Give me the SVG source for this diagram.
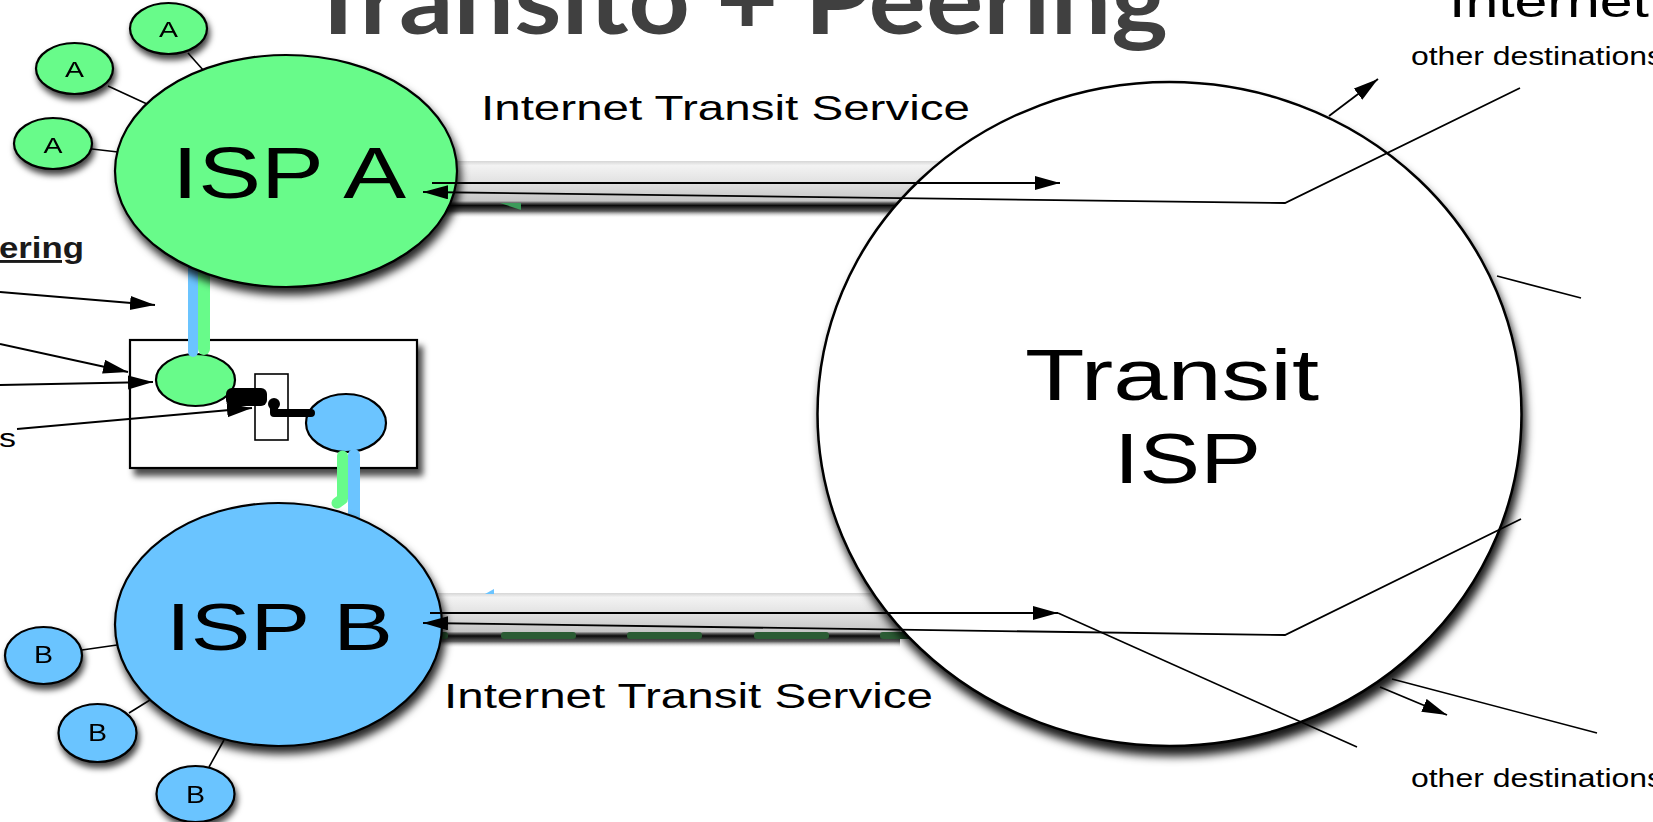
<svg xmlns="http://www.w3.org/2000/svg" width="1653" height="822" viewBox="0 0 1653 822">
<defs>
<style>
.t{font-family:"Liberation Sans",Arial,Helvetica,sans-serif;fill:#000}
.ln{stroke:#000;stroke-width:1.6;fill:none}
.ar{stroke:#000;stroke-width:1.8;fill:none;marker-end:url(#ah)}
.nd{stroke:#000;stroke-width:2.2}
.g{fill:#68fb8a}
.b{fill:#6bc4ff}
.bump{fill:#2b5c34}
</style>
<marker id="ah" markerUnits="userSpaceOnUse" markerWidth="28" markerHeight="16" refX="25" refY="7" orient="auto"><path d="M0,0 L25,7 L0,14 z" fill="#000"/></marker>
<linearGradient id="bar" x1="0" y1="0" x2="0" y2="1">
<stop offset="0" stop-color="#d6d6d6"/>
<stop offset="0.08" stop-color="#f3f3f3"/>
<stop offset="0.35" stop-color="#e3e3e3"/>
<stop offset="0.7" stop-color="#c6c6c6"/>
<stop offset="0.74" stop-color="#555"/>
<stop offset="0.78" stop-color="#0a0a0a"/>
<stop offset="0.88" stop-color="#333" stop-opacity="0.8"/>
<stop offset="1" stop-color="#fff" stop-opacity="0"/>
</linearGradient>
<filter id="shBig" x="-10%" y="-10%" width="125%" height="125%"><feDropShadow dx="3" dy="9" stdDeviation="5" flood-color="#000" flood-opacity="0.9"/></filter>
<filter id="shMed" x="-15%" y="-15%" width="135%" height="140%"><feDropShadow dx="3" dy="7" stdDeviation="4" flood-color="#000" flood-opacity="0.85"/></filter>
<filter id="shSm" x="-30%" y="-30%" width="170%" height="180%"><feDropShadow dx="2" dy="5" stdDeviation="3" flood-color="#000" flood-opacity="0.75"/></filter>
<filter id="shBox" x="-10%" y="-10%" width="125%" height="130%"><feDropShadow dx="5" dy="7" stdDeviation="3" flood-color="#000" flood-opacity="0.7"/></filter>
</defs>
<rect width="1653" height="822" fill="#fff"/>

<g id="labels">
<text x="306" y="34" font-family="Lato,'Open Sans',sans-serif" font-weight="700" font-size="96" fill="#404040" textLength="862" lengthAdjust="spacingAndGlyphs">Transito + Peering</text>
<text class="t" x="1449" y="17" font-size="45" textLength="200" lengthAdjust="spacingAndGlyphs">Internet</text>
<text class="t" x="1411" y="65" font-size="25" textLength="252" lengthAdjust="spacingAndGlyphs">other destinations</text>
<text class="t" x="1411" y="787" font-size="25" textLength="252" lengthAdjust="spacingAndGlyphs">other destinations</text>
<text class="t" x="481" y="120" font-size="35" textLength="489" lengthAdjust="spacingAndGlyphs">Internet Transit Service</text>
<text class="t" x="444" y="708" font-size="35" textLength="489" lengthAdjust="spacingAndGlyphs">Internet Transit Service</text>
<text x="-1" y="258" font-family="'Liberation Sans',Arial,sans-serif" font-weight="700" font-size="29" fill="#1a1a1a" text-decoration="underline" textLength="85" lengthAdjust="spacingAndGlyphs">ering</text>
<text class="t" x="-1" y="447" font-size="25" textLength="17" lengthAdjust="spacingAndGlyphs">s</text>
</g>

<g id="peering">
<rect x="130" y="340" width="287" height="128" fill="#fff" stroke="#000" stroke-width="2.2" filter="url(#shBox)"/>
<rect x="255" y="374" width="33" height="66" fill="#fff" stroke="#000" stroke-width="1.6"/>
<ellipse class="g nd" cx="195.5" cy="380" rx="39.5" ry="26"/>
<ellipse class="b nd" cx="346" cy="423" rx="40" ry="29"/>
<rect x="226" y="388" width="41" height="18" rx="6" fill="#000"/>
<circle cx="274" cy="404" r="6" fill="#000"/>
<path d="M274,404 L274,413 L311,413" stroke="#000" stroke-width="8" fill="none" stroke-linecap="round" stroke-linejoin="round"/>
</g>

<g id="connectors-under">
<line x1="193" y1="250" x2="193" y2="352" stroke="#6bc4ff" stroke-width="10" stroke-linecap="round"/>
<line x1="204" y1="250" x2="204" y2="349" stroke="#68fb8a" stroke-width="12" stroke-linecap="round"/>
<line x1="354" y1="455" x2="354" y2="525" stroke="#6bc4ff" stroke-width="12" stroke-linecap="round"/>
<path d="M342.5,456 L342.5,499 L337,503" stroke="#68fb8a" stroke-width="11" fill="none" stroke-linecap="round" stroke-linejoin="round"/>
<rect x="420" y="161" width="540" height="57" fill="url(#bar)"/>
<polygon points="500,203 521,203 521,210" fill="#3c9a5a"/>
<rect x="410" y="593" width="490" height="55" fill="url(#bar)"/>
<rect class="bump" x="425" y="632" width="23" height="7" rx="3"/>
<rect class="bump" x="501" y="632" width="75" height="7" rx="3"/>
<rect class="bump" x="627" y="632" width="75" height="7" rx="3"/>
<rect class="bump" x="754" y="632" width="75" height="7" rx="3"/>
<rect class="bump" x="880" y="632" width="75" height="7" rx="3"/>
<polygon points="485,594 494,589 494,594" fill="#6bc4ff"/>
<line class="ln" x1="188" y1="53" x2="204" y2="71"/>
<line class="ln" x1="108" y1="86" x2="147" y2="104"/>
<line class="ln" x1="92" y1="149" x2="118" y2="152"/>
<line class="ln" x1="82" y1="650" x2="117" y2="645"/>
<line class="ln" x1="129" y1="713" x2="150" y2="700"/>
<line class="ln" x1="209" y1="767" x2="224" y2="740"/>
</g>

<g id="a1" filter="url(#shSm)"><ellipse class="g nd" cx="168.5" cy="28.5" rx="38.5" ry="25.5"/><text class="t" x="159" y="37" font-size="22" textLength="19" lengthAdjust="spacingAndGlyphs">A</text></g>
<g id="a2" filter="url(#shSm)"><ellipse class="g nd" cx="74.5" cy="68.5" rx="38.5" ry="25.5"/><text class="t" x="65" y="77" font-size="22" textLength="19" lengthAdjust="spacingAndGlyphs">A</text></g>
<g id="a3" filter="url(#shSm)"><ellipse class="g nd" cx="53" cy="143.5" rx="39" ry="25.5"/><text class="t" x="43.5" y="153" font-size="22" textLength="19" lengthAdjust="spacingAndGlyphs">A</text></g>
<g id="b1" filter="url(#shSm)"><ellipse class="b nd" cx="43.5" cy="655.5" rx="38.5" ry="28.5"/><text class="t" x="34" y="663" font-size="23" textLength="19" lengthAdjust="spacingAndGlyphs">B</text></g>
<g id="b2" filter="url(#shSm)"><ellipse class="b nd" cx="97.5" cy="733" rx="39" ry="29"/><text class="t" x="88" y="741" font-size="23" textLength="19" lengthAdjust="spacingAndGlyphs">B</text></g>
<g id="b3" filter="url(#shSm)"><ellipse class="b nd" cx="195.5" cy="794" rx="39" ry="28"/><text class="t" x="186" y="803" font-size="23" textLength="19" lengthAdjust="spacingAndGlyphs">B</text></g>

<g id="isp-a"><ellipse class="g nd" cx="286" cy="171" rx="171" ry="116" filter="url(#shMed)"/><text class="t" x="172" y="198" font-size="72" textLength="234" lengthAdjust="spacingAndGlyphs">ISP A</text></g>
<g id="isp-b"><ellipse class="b nd" cx="278.5" cy="624.5" rx="163.5" ry="121.5" filter="url(#shMed)"/><text class="t" x="166" y="650" font-size="67" textLength="227" lengthAdjust="spacingAndGlyphs">ISP B</text></g>
<g id="transit-isp"><ellipse cx="1169.5" cy="414" rx="352" ry="332" fill="#fff" stroke="#000" stroke-width="2.5" filter="url(#shBig)"/>
<text class="t" x="1025" y="400" font-size="72" textLength="294" lengthAdjust="spacingAndGlyphs">Transit</text>
<text class="t" x="1114" y="483" font-size="70" textLength="147" lengthAdjust="spacingAndGlyphs">ISP</text></g>

<g id="connectors">
<line class="ar" x1="432" y1="183" x2="1060" y2="183"/>
<polyline class="ar" points="1520,88 1285,203 423,192"/>
<line class="ar" x1="1329" y1="116" x2="1378" y2="79"/>
<line class="ln" x1="1497" y1="276" x2="1581" y2="298"/>
<line class="ar" x1="430" y1="613" x2="1058" y2="613"/>
<line class="ln" x1="1058" y1="613" x2="1357" y2="747"/>
<polyline class="ar" points="1521,519 1285,635 423,623"/>
<line class="ar" x1="1380" y1="687" x2="1447" y2="715"/>
<line class="ln" x1="1392" y1="679" x2="1597" y2="733"/>
<line class="ar" x1="0" y1="292" x2="155" y2="305"/>
<line class="ar" x1="0" y1="344" x2="128" y2="372"/>
<line class="ar" x1="0" y1="385" x2="153" y2="382"/>
<line class="ar" x1="17" y1="429" x2="252" y2="408"/>
</g>
</svg>
